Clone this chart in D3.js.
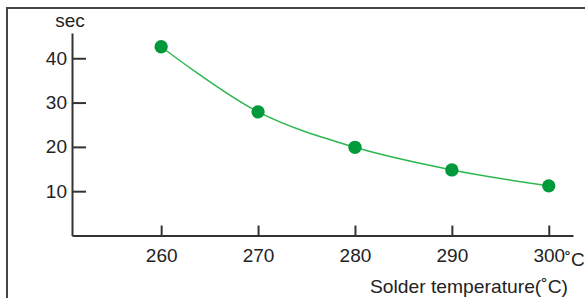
<!DOCTYPE html>
<html>
<head>
<meta charset="utf-8">
<script src="https://cdn.jsdelivr.net/npm/d3@7"></script>
<style>
  body { margin: 0; background: #fff; }
  text { font-family: "Liberation Sans", Arial, sans-serif; fill: #222; }
</style>
</head>
<body>
<svg width="585" height="298"></svg>
<script>
const temperatures = [260, 270, 280, 290, 300];
const seconds = [42.6, 27.9, 19.9, 14.8, 11.2];
const yTicks = [10, 20, 30, 40];

const svg = d3.select('svg');

// cropped frame: only the left and top edges show
svg.append('path')
    .attr('d', 'M7,298 V8 H585')
    .attr('fill', 'none')
    .attr('stroke', '#444')
    .attr('stroke-width', 2);

const x = d3.scaleLinear().domain([250.8, 302.5]).range([72, 573]);
const y = d3.scaleLinear().domain([0, 45.7]).range([235.5, 33]);

// axes
const xAxis = svg.append('g')
    .attr('transform', `translate(0, ${y(0)})`)
    .call(d3.axisBottom(x).tickValues(temperatures).tickSizeInner(-10).tickSizeOuter(0).tickPadding(13)
        .tickFormat(d => d));
xAxis.select('.domain').attr('stroke', '#333').attr('stroke-width', 2);
xAxis.selectAll('.tick line').attr('stroke', '#333').attr('stroke-width', 2);
xAxis.selectAll('.tick text').attr('font-size', 19).attr('fill', '#222');

const yAxis = svg.append('g')
    .attr('transform', `translate(${x.range()[0]}, 0)`)
    .call(d3.axisLeft(y).tickValues(yTicks).tickSizeInner(-14).tickSizeOuter(0).tickPadding(5));
yAxis.select('.domain').attr('stroke', '#333').attr('stroke-width', 2);
yAxis.selectAll('.tick line').attr('stroke', '#333').attr('stroke-width', 2);
yAxis.selectAll('.tick text').attr('font-size', 19).attr('fill', '#222');

// degree unit after the last tick
svg.append('text')
    .attr('x', x(300) + 16)
    .attr('y', y(0) + 30)
    .attr('font-size', 19)
    .text('˚C');

svg.append('text')
    .attr('x', x.range()[0] - 2)
    .attr('y', 27)
    .attr('text-anchor', 'middle')
    .attr('font-size', 19)
    .text('sec');

svg.append('text')
    .attr('x', 568)
    .attr('y', 293)
    .attr('text-anchor', 'end')
    .attr('font-size', 19)
    .attr('textLength', 198)
    .attr('lengthAdjust', 'spacingAndGlyphs')
    .text('Solder temperature(˚C)');

// curve + markers
const pts = temperatures.map((t, i) => [t, seconds[i]]);
svg.append('path')
    .datum(pts)
    .attr('fill', 'none')
    .attr('stroke', '#2db84f')
    .attr('stroke-width', 1.5)
    .attr('d', d3.line().x(d => x(d[0])).y(d => y(d[1])).curve(d3.curveCatmullRom));

svg.selectAll('path.marker')
    .data(pts)
    .join('path')
    .attr('class', 'marker')
    .attr('transform', d => `translate(${x(d[0])}, ${y(d[1])})`)
    .attr('d', d3.symbol(d3.symbolCircle, 140))
    .attr('fill', '#009a3a');
</script>
</body>
</html>
